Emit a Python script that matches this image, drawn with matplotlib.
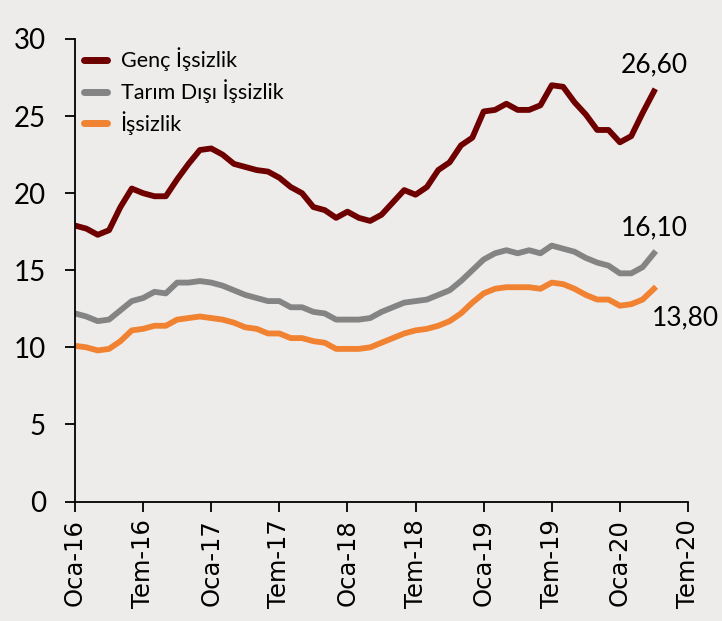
import matplotlib
matplotlib.use("Agg")
import matplotlib.pyplot as plt

# aylık seriler, Oca-16 .. Nis-20
genc = [17.9, 17.7, 17.3, 17.6, 19.1, 20.3, 20.0, 19.8, 19.8, 20.9, 21.9, 22.8,
        22.9, 22.5, 21.9, 21.7, 21.5, 21.4, 21.0, 20.4, 20.0, 19.1, 18.9, 18.4,
        18.8, 18.4, 18.2, 18.6, 19.4, 20.2, 19.9, 20.4, 21.5, 22.0, 23.1, 23.6,
        25.3, 25.4, 25.8, 25.4, 25.4, 25.7, 27.0, 26.9, 25.9, 25.1, 24.1, 24.1,
        23.3, 23.7, 25.2, 26.6]
tarim_disi = [12.2, 12.0, 11.7, 11.8, 12.4, 13.0, 13.2, 13.6, 13.5, 14.2, 14.2, 14.3,
              14.2, 14.0, 13.7, 13.4, 13.2, 13.0, 13.0, 12.6, 12.6, 12.3, 12.2, 11.8,
              11.8, 11.8, 11.9, 12.3, 12.6, 12.9, 13.0, 13.1, 13.4, 13.7, 14.3, 15.0,
              15.7, 16.1, 16.3, 16.1, 16.3, 16.1, 16.6, 16.4, 16.2, 15.8, 15.5, 15.3,
              14.8, 14.8, 15.2, 16.1]
issizlik = [10.1, 10.0, 9.8, 9.9, 10.4, 11.1, 11.2, 11.4, 11.4, 11.8, 11.9, 12.0,
            11.9, 11.8, 11.6, 11.3, 11.2, 10.9, 10.9, 10.6, 10.6, 10.4, 10.3, 9.9,
            9.9, 9.9, 10.0, 10.3, 10.6, 10.9, 11.1, 11.2, 11.4, 11.7, 12.2, 12.9,
            13.5, 13.8, 13.9, 13.9, 13.9, 13.8, 14.2, 14.1, 13.8, 13.4, 13.1, 13.1,
            12.7, 12.8, 13.1, 13.8]

tick_labels = ["Oca-16", "Tem-16", "Oca-17", "Tem-17", "Oca-18",
               "Tem-18", "Oca-19", "Tem-19", "Oca-20", "Tem-20"]
son_etiketler = ["26,60", "16,10", "13,80"]

bg = "#edeceb"
renkler = ["#6e0000", "#848484", "#f08232"]
yazi = ["Lato", "DejaVu Sans"]

fig = plt.figure(figsize=(7.22, 6.21), dpi=100, facecolor=bg)
ax = fig.add_axes([0.1039, 0.1924, 0.849, 0.7448])
ax.set_facecolor(bg)

x = list(range(len(genc)))
ax.plot(x, genc, color=renkler[0], lw=4.2, label="Genç İşsizlik", solid_joinstyle="round")
ax.plot(x, tarim_disi, color=renkler[1], lw=4.2, label="Tarım Dışı İşsizlik", solid_joinstyle="round")
ax.plot(x, issizlik, color=renkler[2], lw=4.2, label="İşsizlik", solid_joinstyle="round")

ax.set_xlim(0, 54)
ax.set_ylim(0, 30)
ax.set_xticks(range(0, 55, 6))
ax.set_xticklabels(tick_labels, rotation=90, fontsize=17.5, family="DejaVu Sans")
ax.set_yticks(range(0, 31, 5))
ax.set_yticklabels([str(v) for v in range(0, 31, 5)], fontsize=20, family=yazi)
ax.tick_params(axis="both", direction="out", length=7, width=1.3, color="black")
ax.tick_params(axis="x", pad=6)
ax.tick_params(axis="y", pad=14)
for s in ["top", "right"]:
    ax.spines[s].set_visible(False)
for s in ["left", "bottom"]:
    ax.spines[s].set_linewidth(1.3)

son = len(genc) - 1
ax.annotate(son_etiketler[0], (son, genc[-1]), xytext=(0, 19), textcoords="offset points",
            ha="center", va="center", fontsize=19, family=yazi)
ax.annotate(son_etiketler[1], (son, tarim_disi[-1]), xytext=(0, 18.5), textcoords="offset points",
            ha="center", va="center", fontsize=19, family=yazi)
ax.annotate(son_etiketler[2], (son, issizlik[-1]), xytext=(23, -21), textcoords="offset points",
            ha="center", va="center", fontsize=19, family=yazi)

leg = ax.legend(loc="upper left", bbox_to_anchor=(0.0, 1.0), frameon=False,
                prop={"family": yazi, "size": 15.5}, handlelength=1.07,
                handletextpad=0.65, labelspacing=0.36, borderaxespad=0.0,
                borderpad=0.4)
for h in leg.get_lines():
    h.set_linewidth(5)
    h.set_solid_capstyle("round")

fig.savefig("out.png", dpi=100, facecolor=bg)
